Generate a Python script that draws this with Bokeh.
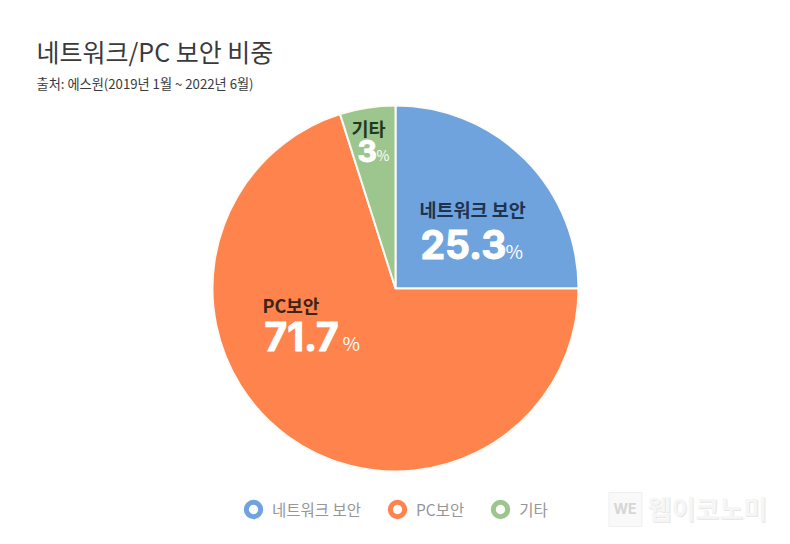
import math
from bokeh.plotting import figure
from bokeh.models import ColumnDataSource, Legend, LegendItem, Label
from bokeh.embed import file_html
from bokeh.resources import INLINE

title_text = "네트워크/PC 보안 비중"
subtitle_text = "출처: 에스원(2019년 1월 ~ 2022년 6월)"
categories = ["네트워크 보안", "PC보안", "기타"]
drawn_share = [25.0, 70.1, 4.9]
label_values = ["25.3", "71.7", "3"]
colors = ["#6fa3de", "#ff834d", "#9dc58e"]
name_colors = ["#1f3350", "#3d2413", "#1f3a1e"]

CX, CY = 395, 288
KR = "Noto Sans CJK KR"
NUM = "Inter"

p = figure(width=774, height=528, output_backend="svg", toolbar_location=None,
           x_range=(-395, 379), y_range=(-240, 288), min_border=0,
           outline_line_color=None, background_fill_color="white", border_fill_color="white")
p.axis.visible = False
p.grid.visible = False

total = sum(drawn_share)
starts, ends = [], []
a = math.pi / 2
for v in drawn_share:
    starts.append(a)
    a -= v / total * 2 * math.pi
    ends.append(a)
src = ColumnDataSource(dict(cat=categories, v=drawn_share, start=starts, end=ends, color=colors))
p.wedge(x=0, y=0, radius=183, start_angle="start", end_angle="end", direction="clock",
        fill_color="color", line_color="#fdfbf5", line_width=2, source=src)


def put(text, x, y, size, color, font=KR, style="normal", align="left", outline=None):
    kw = {"text_outline_color": outline} if outline else {}
    p.add_layout(Label(x=x - CX, y=CY - y, text=text, text_font=font, text_font_size=f"{size}px",
                       text_color=color, text_font_style=style, text_align=align,
                       text_baseline="middle", **kw))


# watermark (pale with a soft shadow)
p.rect(x=[625 - CX], y=[CY - 509], width=33, height=34, fill_color="#f9f9f9", line_color="#efefef")
put("WE", 613, 508, 14, "#d6d6d6", font=NUM, style="bold")
put("웹이코노미", 648, 508, 26, "#e6e6e6", style="bold")
put("웹이코노미", 647, 507, 26, "#f6f6f6", style="bold")

put(title_text, 36, 50.5, 25, "#3a3a3a")
put(subtitle_text, 36, 83, 13.2, "#3a3a3a")

put(categories[0], 419, 208, 18.5, name_colors[0], style="bold")
put(label_values[0], 420, 244, 39, "white", font=NUM, style="bold", outline="white")
put("%", 505, 250, 19, "white", font=KR)

put(categories[1], 262, 304, 18, name_colors[1], style="bold")
put(label_values[1], 264, 336, 39, "white", font=NUM, style="bold", outline="white")
put("%", 342, 342, 19, "white", font=KR)

put(categories[2], 351, 127, 18.5, name_colors[2], style="bold")
put(label_values[2], 357, 150, 30, "white", font=NUM, style="bold", outline="white")
put("%", 376, 154, 14, "white", font=KR)

# legend rings
items = []
for name, c in zip(categories, colors):
    r = p.scatter(x=[float("nan")], y=[float("nan")], size=14, marker="circle",
                  fill_color="white", line_color=c, line_width=5)
    items.append(LegendItem(label=name, renderers=[r]))
legend = Legend(items=items, orientation="horizontal", location=(235, 1),
                border_line_color=None, background_fill_alpha=0,
                label_text_font=KR, label_text_font_size="15.5px", label_text_color="#969696",
                glyph_width=36, glyph_height=36, spacing=18, label_standoff=1, padding=0, margin=0)
p.add_layout(legend, "center")

open("out.html", "w").write(file_html(p, INLINE))
